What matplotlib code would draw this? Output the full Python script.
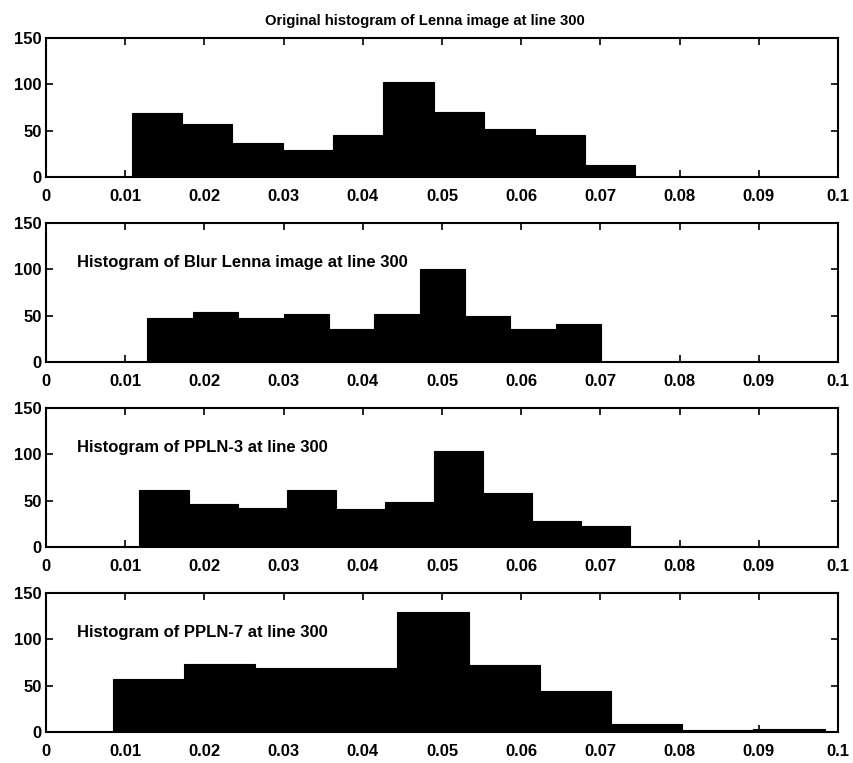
import numpy as np
import matplotlib
matplotlib.use("Agg")
import matplotlib.pyplot as plt

plt.rcParams['font.family'] = ['Liberation Sans', 'DejaVu Sans']
plt.rcParams['font.weight'] = 'bold'

# histogram counts (10 bins each)
counts_orig = [69, 57, 37, 29, 45, 103, 70, 52, 45, 13]
counts_blur = [47, 54, 47, 52, 36, 52, 100, 50, 36, 41]
counts_pp3 = [62, 46, 42, 62, 41, 49, 104, 58, 28, 23]
counts_pp7 = [57, 73, 69, 69, 129, 72, 44, 9, 2, 3]

# bin ranges (min, max) of each histogram
range_orig = (0.0108, 0.0744)
range_blur = (0.0128, 0.0701)
range_pp3 = (0.0118, 0.0738)
range_pp7 = (0.0084, 0.0983)

titles = ['Original histogram of Lenna image at line 300',
          'Histogram of Blur Lenna image at line 300',
          'Histogram of PPLN-3 at line 300',
          'Histogram of PPLN-7 at line 300']

xticks = [0, 0.01, 0.02, 0.03, 0.04, 0.05, 0.06, 0.07, 0.08, 0.09, 0.1]
xticklabels = ['0', '0.01', '0.02', '0.03', '0.04', '0.05', '0.06', '0.07', '0.08', '0.09', '0.1']
yticks = [0, 50, 100, 150]

panels = [(counts_orig, range_orig), (counts_blur, range_blur),
          (counts_pp3, range_pp3), (counts_pp7, range_pp7)]

W, H = 854, 763
fig = plt.figure(figsize=(W / 100, H / 100), dpi=100)

left, right = 46, 838
top0, ph, step = 38, 139, 185

for i, (counts, rng) in enumerate(panels):
    top = top0 + i * step
    ax = fig.add_axes([left / W, 1 - (top + ph) / H, (right - left) / W, ph / H])
    edges = np.linspace(rng[0], rng[1], len(counts) + 1)
    ax.bar(edges[:-1], counts, width=np.diff(edges), align='edge',
           color='black', edgecolor='black', linewidth=0.8)
    ax.plot([0, 0.1], [0, 0], color='black', linewidth=1.2)
    ax.set_xlim(0, 0.1)
    ax.set_ylim(0, 150)
    ax.set_xticks(xticks)
    ax.set_xticklabels(xticklabels)
    ax.set_yticks(yticks)
    ax.tick_params(direction='in', top=True, right=True, length=5, width=1.2,
                   labelsize=12)
    ax.tick_params(axis='x', pad=8.5)
    ax.tick_params(axis='y', pad=3)
    for s in ax.spines.values():
        s.set_linewidth(1.5)
    if i == 0:
        ax.set_title(titles[i], fontsize=10.7, fontweight='bold', pad=9, x=0.478)
    else:
        ax.text(0.0039, 107, titles[i], fontsize=12, fontweight='bold',
                va='center', ha='left')

fig.savefig('out.png', dpi=100)
